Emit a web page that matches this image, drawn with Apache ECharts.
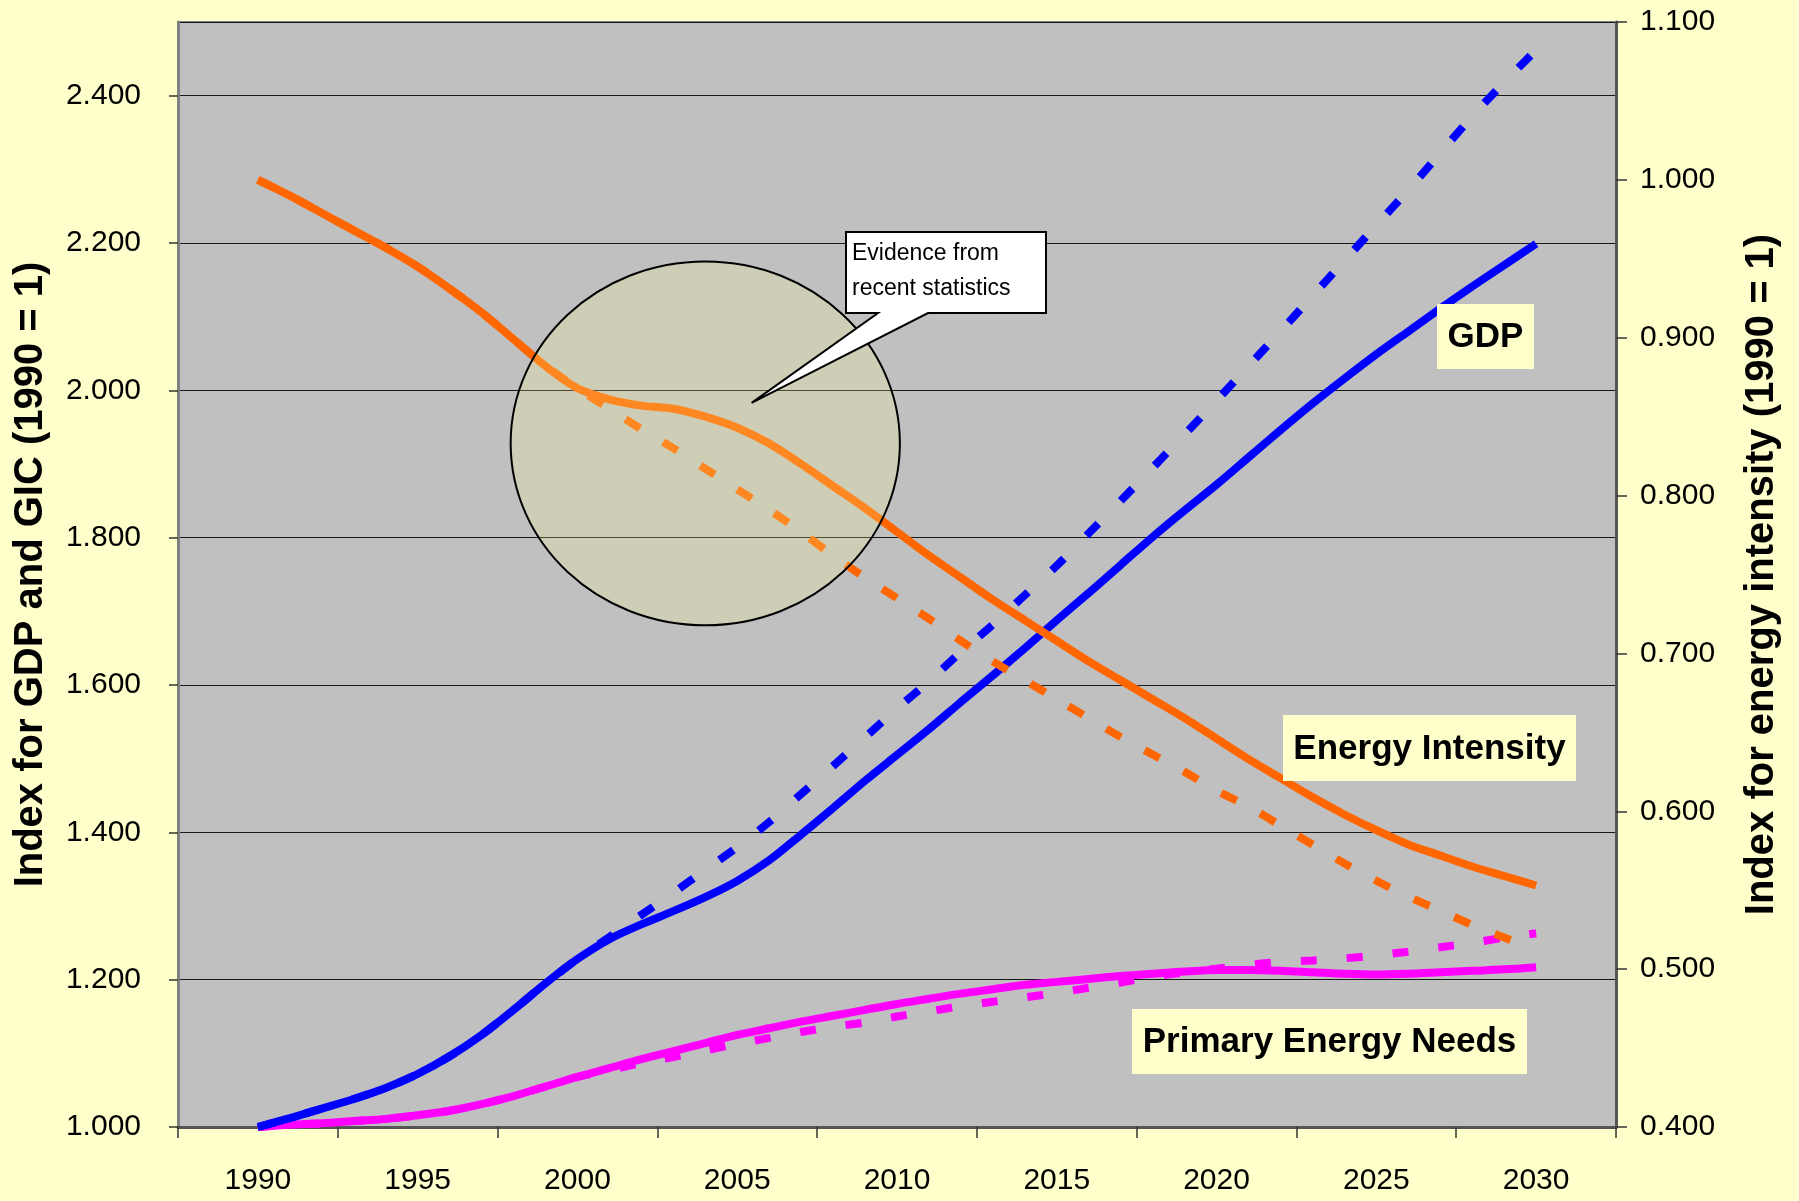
<!DOCTYPE html>
<html>
<head>
<meta charset="utf-8">
<script src="https://cdn.jsdelivr.net/npm/echarts@6/dist/echarts.min.js"></script>
<style>
  html, body { margin: 0; padding: 0; background: #FFFFCC; }
  #main { width: 1799px; height: 1201px; }
</style>
</head>
<body>
<div id="main"></div>
<script>
// x axis labels (one category per 5 years)
var xLabels = ["1990", "1995", "2000", "2005", "2010", "2015", "2020", "2025", "2030"];
// yearly points for the curves
var years = [1990, 1991, 1992, 1993, 1994, 1995, 1996, 1997, 1998, 1999,
  2000, 2001, 2002, 2003, 2004, 2005, 2006, 2007, 2008, 2009,
  2010, 2011, 2012, 2013, 2014, 2015, 2016, 2017, 2018, 2019,
  2020, 2021, 2022, 2023, 2024, 2025, 2026, 2027, 2028, 2029, 2030];

// GDP (left axis)
var gdp = [1.000, 1.012, 1.025, 1.038, 1.053, 1.072, 1.096, 1.125, 1.159, 1.195,
  1.228, 1.255, 1.275, 1.293, 1.312, 1.334, 1.362, 1.397, 1.433, 1.470,
  1.505, 1.540, 1.577, 1.613, 1.650, 1.688, 1.725, 1.763, 1.801, 1.837,
  1.872, 1.909, 1.946, 1.982, 2.016, 2.049, 2.080, 2.111, 2.141, 2.170, 2.199];
var gdpOld = [1.000, 1.012, 1.025, 1.038, 1.053, 1.072, 1.096, 1.125, 1.159, 1.195,
  1.228, 1.258, 1.288, 1.318, 1.349, 1.380, 1.414, 1.452, 1.490, 1.529,
  1.568, 1.605, 1.645, 1.682, 1.722, 1.762, 1.806, 1.850, 1.895, 1.940,
  1.986, 2.033, 2.080, 2.128, 2.176, 2.224, 2.272, 2.322, 2.372, 2.418, 2.462];

// energy intensity (right axis)
var intensity = [1.000, 0.990, 0.979, 0.968, 0.957, 0.945, 0.931, 0.916, 0.899, 0.882,
  0.868, 0.861, 0.857, 0.855, 0.850, 0.843, 0.833, 0.820, 0.806, 0.792,
  0.777, 0.762, 0.748, 0.734, 0.721, 0.708, 0.695, 0.683, 0.671, 0.659,
  0.646, 0.633, 0.621, 0.609, 0.598, 0.588, 0.579, 0.572, 0.565, 0.559, 0.553];
var intensityOld = [1.000, 0.990, 0.979, 0.968, 0.957, 0.945, 0.931, 0.916, 0.899, 0.882,
  0.868, 0.855, 0.842, 0.830, 0.817, 0.804, 0.791, 0.777, 0.762, 0.748,
  0.735, 0.722, 0.708, 0.695, 0.683, 0.671, 0.659, 0.647, 0.636, 0.625,
  0.613, 0.603, 0.591, 0.579, 0.567, 0.556, 0.546, 0.537, 0.528, 0.520, 0.513];

// primary energy needs (left axis)
var energy = [1.000, 1.003, 1.005, 1.008, 1.011, 1.016, 1.022, 1.031, 1.042, 1.055,
  1.068, 1.080, 1.092, 1.103, 1.114, 1.125, 1.134, 1.143, 1.151, 1.159,
  1.167, 1.174, 1.181, 1.187, 1.193, 1.197, 1.201, 1.205, 1.208, 1.211,
  1.213, 1.213, 1.212, 1.210, 1.208, 1.207, 1.208, 1.210, 1.212, 1.214, 1.217];
var energyOld = [1.000, 1.003, 1.005, 1.008, 1.011, 1.016, 1.022, 1.031, 1.042, 1.055,
  1.068, 1.077, 1.087, 1.095, 1.104, 1.113, 1.121, 1.129, 1.136, 1.142,
  1.150, 1.157, 1.164, 1.170, 1.176, 1.182, 1.189, 1.196, 1.204, 1.210,
  1.215, 1.220, 1.224, 1.226, 1.229, 1.233, 1.238, 1.244, 1.250, 1.257, 1.263];

var FONT = '"Liberation Sans", Arial, sans-serif';

function pairs(vals) {
  var out = [];
  for (var i = 0; i < years.length; i++) out.push([years[i], vals[i]]);
  return out;
}

function line(name, vals, color, yIdx, dash) {
  return {
    name: name,
    type: "line",
    xAxisIndex: 1,
    yAxisIndex: yIdx,
    data: pairs(vals),
    smooth: 0.3,
    showSymbol: false,
    silent: true,
    lineStyle: { color: color, width: 8, type: dash || "solid", cap: "butt" }
  };
}

var chart = echarts.init(document.getElementById("main"));

var option = {
  backgroundColor: "#FFFFCC",
  animation: false,
  grid: {
    left: 178, right: 183, top: 22, bottom: 74,
    show: true, backgroundColor: "#C0C0C0", borderColor: "#808080", borderWidth: 2
  },
  xAxis: [
    {
      type: "category",
      position: "bottom",
      data: xLabels,
      boundaryGap: true,
      axisLine: { lineStyle: { color: "#555", width: 3 } },
      axisTick: { show: true, length: 11, lineStyle: { color: "#333", width: 1.5 } },
      axisLabel: { color: "#000", fontSize: 30, fontFamily: FONT, margin: 39 },
      splitLine: { show: false }
    },
    {
      type: "value",
      position: "top",
      min: 1987.5,
      max: 2032.5,
      show: false
    }
  ],
  yAxis: [
    {
      type: "value",
      position: "left",
      min: 1,
      max: 2.5,
      interval: 0.2,
      name: "Index for GDP and GIC (1990 = 1)",
      nameLocation: "middle",
      nameRotate: 90,
      nameGap: 127,
      nameTextStyle: { color: "#000", fontSize: 40, fontWeight: "bold", fontFamily: FONT },
      axisLine: { show: true, lineStyle: { color: "#808080", width: 3 } },
      axisTick: { show: true, length: 9, lineStyle: { color: "#333", width: 1.5 } },
      axisLabel: {
        color: "#000", fontSize: 30, fontFamily: FONT, margin: 37,
        showMaxLabel: false,
        formatter: function (v) { return v.toFixed(3); }
      },
      splitLine: { show: true, lineStyle: { color: "#1a1a1a", width: 1.2 } }
    },
    {
      type: "value",
      position: "right",
      min: 0.4,
      max: 1.1,
      interval: 0.1,
      name: "Index for energy intensity (1990 = 1)",
      nameLocation: "middle",
      nameRotate: 90,
      nameGap: 126,
      nameTextStyle: { color: "#000", fontSize: 40, fontWeight: "bold", fontFamily: FONT },
      axisLine: { show: true, lineStyle: { color: "#555", width: 3 } },
      axisTick: { show: true, length: 11, lineStyle: { color: "#333", width: 1.5 } },
      axisLabel: {
        color: "#000", fontSize: 30, fontFamily: FONT, margin: 24,
        formatter: function (v) { return v.toFixed(3); }
      },
      splitLine: { show: false }
    }
  ],
  series: [
    line("Primary Energy Needs", energy, "#FF00FF", 0),
    line("Primary Energy Needs (old)", energyOld, "#FF00FF", 0, [16, 30]),
    line("GDP", gdp, "#0000FF", 0),
    line("GDP (old)", gdpOld, "#0000FF", 0, [17, 32]),
    line("Energy Intensity", intensity, "#FF6600", 1),
    line("Energy Intensity (old)", intensityOld, "#FF6600", 1, [17, 27])
  ]
};
chart.setOption(option);

// annotation: ellipse around 2000-2008, pointer box
var ring = { year: 2004, value: 1.928, rxYears: 6.09, ryValue: 0.247 };
var tip = [2005.45, 1.983];

var c = chart.convertToPixel({ xAxisIndex: 1, yAxisIndex: 0 }, [ring.year, ring.value]);
var e = chart.convertToPixel({ xAxisIndex: 1, yAxisIndex: 0 }, [ring.year + ring.rxYears, ring.value + ring.ryValue]);
var t = chart.convertToPixel({ xAxisIndex: 1, yAxisIndex: 0 }, tip);

function labelBox(x, y, w, h, text) {
  return [
    { type: "rect", z: 100, shape: { x: x, y: y, width: w, height: h }, style: { fill: "#FFFFCC" } },
    {
      type: "text", z: 101, x: x + w / 2, y: y + h / 2 + 1,
      style: { text: text, fill: "#000", font: "bold 35px " + FONT, align: "center", verticalAlign: "middle" }
    }
  ];
}

var graphics = [
  {
    type: "ellipse", z: 90,
    shape: { cx: c[0], cy: c[1], rx: e[0] - c[0], ry: c[1] - e[1] },
    style: { fill: "rgba(255,255,150,0.22)", stroke: "#000", lineWidth: 2 }
  },
  {
    type: "polygon", z: 95,
    shape: { points: [[846, 232], [1046, 232], [1046, 313], [928, 313], [t[0], t[1]], [878, 313], [846, 313]] },
    style: { fill: "#FFFFFF", stroke: "#000", lineWidth: 2 }
  },
  {
    type: "text", z: 96, x: 852, y: 236,
    style: { text: "Evidence from\nrecent statistics", fill: "#000", font: "23px " + FONT, lineHeight: 35 }
  }
];
graphics = graphics
  .concat(labelBox(1437, 304, 97, 65, "GDP"))
  .concat(labelBox(1283, 715, 293, 66, "Energy Intensity"))
  .concat(labelBox(1132, 1009, 395, 65, "Primary Energy Needs"));

chart.setOption({ graphic: graphics });
</script>
</body>
</html>
